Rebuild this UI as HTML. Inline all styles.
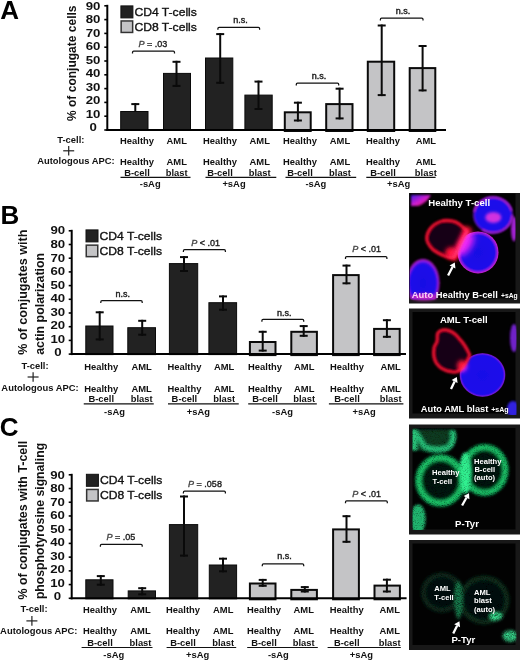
<!DOCTYPE html><html><head><meta charset="utf-8"><style>html,body{margin:0;padding:0;background:#fff;width:520px;height:660px;overflow:hidden}svg{display:block;will-change:transform}text{font-family:"Liberation Sans",sans-serif}</style></head><body>
<svg width="520" height="660" viewBox="0 0 520 660">
<rect width="520" height="660" fill="#fff"/>
<text x="0.20" y="18.80" font-size="26" font-weight="bold" text-anchor="start" fill="#000" >A</text>
<text x="0.60" y="223.80" font-size="26" font-weight="bold" text-anchor="start" fill="#000" >B</text>
<text x="-0.20" y="436.20" font-size="26" font-weight="bold" text-anchor="start" fill="#000" >C</text>
<rect x="120.70" y="111.50" width="27.30" height="19.00" fill="#222" stroke="#0a0a0a" stroke-width="1"/>
<rect x="163.50" y="73.40" width="27.00" height="57.10" fill="#222" stroke="#0a0a0a" stroke-width="1"/>
<rect x="205.50" y="58.00" width="27.30" height="72.50" fill="#222" stroke="#0a0a0a" stroke-width="1"/>
<rect x="244.90" y="95.10" width="27.30" height="35.40" fill="#222" stroke="#0a0a0a" stroke-width="1"/>
<rect x="284.80" y="112.30" width="25.90" height="18.70" fill="#c4c4c6" stroke="#0a0a0a" stroke-width="2"/>
<rect x="326.20" y="104.10" width="26.30" height="26.90" fill="#c4c4c6" stroke="#0a0a0a" stroke-width="2"/>
<rect x="367.80" y="61.70" width="26.40" height="69.30" fill="#c4c4c6" stroke="#0a0a0a" stroke-width="2"/>
<rect x="409.70" y="68.10" width="25.60" height="62.90" fill="#c4c4c6" stroke="#0a0a0a" stroke-width="2"/>
<line x1="135.30" y1="103.10" x2="135.30" y2="111.50" stroke="#0a0a0a" stroke-width="2" stroke-linecap="butt"/>
<line x1="131.30" y1="104.10" x2="139.30" y2="104.10" stroke="#0a0a0a" stroke-width="2" stroke-linecap="butt"/>
<line x1="176.50" y1="60.80" x2="176.50" y2="86.90" stroke="#0a0a0a" stroke-width="2" stroke-linecap="butt"/>
<line x1="172.50" y1="61.80" x2="180.50" y2="61.80" stroke="#0a0a0a" stroke-width="2" stroke-linecap="butt"/>
<line x1="172.50" y1="85.90" x2="180.50" y2="85.90" stroke="#0a0a0a" stroke-width="2" stroke-linecap="butt"/>
<line x1="220.20" y1="33.10" x2="220.20" y2="83.80" stroke="#0a0a0a" stroke-width="2" stroke-linecap="butt"/>
<line x1="216.20" y1="34.10" x2="224.20" y2="34.10" stroke="#0a0a0a" stroke-width="2" stroke-linecap="butt"/>
<line x1="216.20" y1="82.80" x2="224.20" y2="82.80" stroke="#0a0a0a" stroke-width="2" stroke-linecap="butt"/>
<line x1="258.50" y1="80.60" x2="258.50" y2="110.00" stroke="#0a0a0a" stroke-width="2" stroke-linecap="butt"/>
<line x1="254.50" y1="81.60" x2="262.50" y2="81.60" stroke="#0a0a0a" stroke-width="2" stroke-linecap="butt"/>
<line x1="254.50" y1="109.00" x2="262.50" y2="109.00" stroke="#0a0a0a" stroke-width="2" stroke-linecap="butt"/>
<line x1="297.90" y1="101.70" x2="297.90" y2="121.50" stroke="#0a0a0a" stroke-width="2" stroke-linecap="butt"/>
<line x1="293.90" y1="102.70" x2="301.90" y2="102.70" stroke="#0a0a0a" stroke-width="2" stroke-linecap="butt"/>
<line x1="293.90" y1="120.50" x2="301.90" y2="120.50" stroke="#0a0a0a" stroke-width="2" stroke-linecap="butt"/>
<line x1="339.60" y1="87.70" x2="339.60" y2="119.40" stroke="#0a0a0a" stroke-width="2" stroke-linecap="butt"/>
<line x1="335.60" y1="88.70" x2="343.60" y2="88.70" stroke="#0a0a0a" stroke-width="2" stroke-linecap="butt"/>
<line x1="335.60" y1="118.40" x2="343.60" y2="118.40" stroke="#0a0a0a" stroke-width="2" stroke-linecap="butt"/>
<line x1="381.70" y1="24.50" x2="381.70" y2="96.10" stroke="#0a0a0a" stroke-width="2" stroke-linecap="butt"/>
<line x1="377.70" y1="25.50" x2="385.70" y2="25.50" stroke="#0a0a0a" stroke-width="2" stroke-linecap="butt"/>
<line x1="377.70" y1="95.10" x2="385.70" y2="95.10" stroke="#0a0a0a" stroke-width="2" stroke-linecap="butt"/>
<line x1="422.60" y1="45.00" x2="422.60" y2="91.40" stroke="#0a0a0a" stroke-width="2" stroke-linecap="butt"/>
<line x1="418.60" y1="46.00" x2="426.60" y2="46.00" stroke="#0a0a0a" stroke-width="2" stroke-linecap="butt"/>
<line x1="418.60" y1="90.40" x2="426.60" y2="90.40" stroke="#0a0a0a" stroke-width="2" stroke-linecap="butt"/>
<line x1="107.30" y1="4.80" x2="107.30" y2="131.00" stroke="#000" stroke-width="2" stroke-linecap="butt"/>
<line x1="106.30" y1="130.00" x2="446.00" y2="130.00" stroke="#000" stroke-width="2" stroke-linecap="butt"/>
<line x1="104.30" y1="130.00" x2="107.30" y2="130.00" stroke="#000" stroke-width="1.6" stroke-linecap="butt"/>
<text transform="translate(93.05,131.05) scale(1.18,1)" font-size="11.2" font-weight="bold" text-anchor="middle" fill="#111" >0</text>
<line x1="104.30" y1="116.20" x2="107.30" y2="116.20" stroke="#000" stroke-width="1.6" stroke-linecap="butt"/>
<text transform="translate(93.05,117.58) scale(1.18,1)" font-size="11.2" font-weight="bold" text-anchor="middle" fill="#111" >10</text>
<line x1="104.30" y1="102.40" x2="107.30" y2="102.40" stroke="#000" stroke-width="1.6" stroke-linecap="butt"/>
<text transform="translate(93.05,104.12) scale(1.18,1)" font-size="11.2" font-weight="bold" text-anchor="middle" fill="#111" >20</text>
<line x1="104.30" y1="88.60" x2="107.30" y2="88.60" stroke="#000" stroke-width="1.6" stroke-linecap="butt"/>
<text transform="translate(93.05,90.65) scale(1.18,1)" font-size="11.2" font-weight="bold" text-anchor="middle" fill="#111" >30</text>
<line x1="104.30" y1="74.80" x2="107.30" y2="74.80" stroke="#000" stroke-width="1.6" stroke-linecap="butt"/>
<text transform="translate(93.05,77.18) scale(1.18,1)" font-size="11.2" font-weight="bold" text-anchor="middle" fill="#111" >40</text>
<line x1="104.30" y1="61.00" x2="107.30" y2="61.00" stroke="#000" stroke-width="1.6" stroke-linecap="butt"/>
<text transform="translate(93.05,63.72) scale(1.18,1)" font-size="11.2" font-weight="bold" text-anchor="middle" fill="#111" >50</text>
<line x1="104.30" y1="47.20" x2="107.30" y2="47.20" stroke="#000" stroke-width="1.6" stroke-linecap="butt"/>
<text transform="translate(93.05,50.25) scale(1.18,1)" font-size="11.2" font-weight="bold" text-anchor="middle" fill="#111" >60</text>
<line x1="104.30" y1="33.40" x2="107.30" y2="33.40" stroke="#000" stroke-width="1.6" stroke-linecap="butt"/>
<text transform="translate(93.05,36.78) scale(1.18,1)" font-size="11.2" font-weight="bold" text-anchor="middle" fill="#111" >70</text>
<line x1="104.30" y1="19.60" x2="107.30" y2="19.60" stroke="#000" stroke-width="1.6" stroke-linecap="butt"/>
<text transform="translate(93.05,23.32) scale(1.18,1)" font-size="11.2" font-weight="bold" text-anchor="middle" fill="#111" >80</text>
<line x1="104.30" y1="5.80" x2="107.30" y2="5.80" stroke="#000" stroke-width="1.6" stroke-linecap="butt"/>
<text transform="translate(93.05,9.85) scale(1.18,1)" font-size="11.2" font-weight="bold" text-anchor="middle" fill="#111" >90</text>
<path d="M132.50,53.60 L132.50,52.40 Q132.50,51.20 133.70,51.20 L173.30,51.20 Q174.50,51.20 174.50,52.40 L174.50,53.60" fill="none" stroke="#111" stroke-width="1.25"/>
<text x="153.00" y="47.20" font-size="9" text-anchor="middle" fill="#1a1a1a" stroke="#1a1a1a" stroke-width="0.35"><tspan font-style="italic" fill="#444" stroke="#444">P</tspan> = .03</text>
<path d="M217.90,29.70 L217.90,28.50 Q217.90,27.30 219.10,27.30 L258.40,27.30 Q259.60,27.30 259.60,28.50 L259.60,29.70" fill="none" stroke="#111" stroke-width="1.25"/>
<text x="240.50" y="23.00" font-size="9" font-weight="normal" text-anchor="middle" fill="#1a1a1a" stroke="#1a1a1a" stroke-width="0.4">n.s.</text>
<path d="M296.30,85.50 L296.30,84.30 Q296.30,83.10 297.50,83.10 L337.50,83.10 Q338.70,83.10 338.70,84.30 L338.70,85.50" fill="none" stroke="#111" stroke-width="1.25"/>
<text x="319.00" y="78.90" font-size="9" font-weight="normal" text-anchor="middle" fill="#1a1a1a" stroke="#1a1a1a" stroke-width="0.4">n.s.</text>
<path d="M380.40,20.40 L380.40,19.20 Q380.40,18.00 381.60,18.00 L421.80,18.00 Q423.00,18.00 423.00,19.20 L423.00,20.40" fill="none" stroke="#111" stroke-width="1.25"/>
<text x="403.00" y="13.60" font-size="9" font-weight="normal" text-anchor="middle" fill="#1a1a1a" stroke="#1a1a1a" stroke-width="0.4">n.s.</text>
<rect x="120.90" y="5.90" width="12" height="12" fill="#222" stroke="#111" stroke-width="1"/>
<rect x="121.15" y="20.95" width="11.5" height="11.5" fill="#c4c4c6" stroke="#333" stroke-width="1.5"/>
<text x="134.40" y="16.00" font-size="11.6" font-weight="normal" text-anchor="start" fill="#111" textLength="62.5" lengthAdjust="spacingAndGlyphs" stroke="#111" stroke-width="0.35">CD4 T-cells</text>
<text x="134.40" y="30.80" font-size="11.6" font-weight="normal" text-anchor="start" fill="#111" textLength="62.5" lengthAdjust="spacingAndGlyphs" stroke="#111" stroke-width="0.35">CD8 T-cells</text>
<text transform="translate(137.00,143.75) scale(0.95,1)" font-size="9.9" font-weight="bold" text-anchor="middle" fill="#111" >Healthy</text>
<text transform="translate(137.00,165.40) scale(0.95,1)" font-size="9.9" font-weight="bold" text-anchor="middle" fill="#111" >Healthy</text>
<text transform="translate(137.00,176.00) scale(0.95,1)" font-size="9.9" font-weight="bold" text-anchor="middle" fill="#111" >B-cell</text>
<text transform="translate(176.70,143.75) scale(0.95,1)" font-size="9.9" font-weight="bold" text-anchor="middle" fill="#111" >AML</text>
<text transform="translate(176.70,165.40) scale(0.95,1)" font-size="9.9" font-weight="bold" text-anchor="middle" fill="#111" >AML</text>
<text transform="translate(176.70,176.00) scale(0.95,1)" font-size="9.9" font-weight="bold" text-anchor="middle" fill="#111" >blast</text>
<text transform="translate(220.00,143.75) scale(0.95,1)" font-size="9.9" font-weight="bold" text-anchor="middle" fill="#111" >Healthy</text>
<text transform="translate(220.00,165.40) scale(0.95,1)" font-size="9.9" font-weight="bold" text-anchor="middle" fill="#111" >Healthy</text>
<text transform="translate(220.00,176.00) scale(0.95,1)" font-size="9.9" font-weight="bold" text-anchor="middle" fill="#111" >B-cell</text>
<text transform="translate(259.70,143.75) scale(0.95,1)" font-size="9.9" font-weight="bold" text-anchor="middle" fill="#111" >AML</text>
<text transform="translate(259.70,165.40) scale(0.95,1)" font-size="9.9" font-weight="bold" text-anchor="middle" fill="#111" >AML</text>
<text transform="translate(259.70,176.00) scale(0.95,1)" font-size="9.9" font-weight="bold" text-anchor="middle" fill="#111" >blast</text>
<text transform="translate(300.00,143.75) scale(0.95,1)" font-size="9.9" font-weight="bold" text-anchor="middle" fill="#111" >Healthy</text>
<text transform="translate(300.00,165.40) scale(0.95,1)" font-size="9.9" font-weight="bold" text-anchor="middle" fill="#111" >Healthy</text>
<text transform="translate(300.00,176.00) scale(0.95,1)" font-size="9.9" font-weight="bold" text-anchor="middle" fill="#111" >B-cell</text>
<text transform="translate(340.00,143.75) scale(0.95,1)" font-size="9.9" font-weight="bold" text-anchor="middle" fill="#111" >AML</text>
<text transform="translate(340.00,165.40) scale(0.95,1)" font-size="9.9" font-weight="bold" text-anchor="middle" fill="#111" >AML</text>
<text transform="translate(340.00,176.00) scale(0.95,1)" font-size="9.9" font-weight="bold" text-anchor="middle" fill="#111" >blast</text>
<text transform="translate(383.00,143.75) scale(0.95,1)" font-size="9.9" font-weight="bold" text-anchor="middle" fill="#111" >Healthy</text>
<text transform="translate(383.00,165.40) scale(0.95,1)" font-size="9.9" font-weight="bold" text-anchor="middle" fill="#111" >Healthy</text>
<text transform="translate(383.00,176.00) scale(0.95,1)" font-size="9.9" font-weight="bold" text-anchor="middle" fill="#111" >B-cell</text>
<text transform="translate(425.80,143.75) scale(0.95,1)" font-size="9.9" font-weight="bold" text-anchor="middle" fill="#111" >AML</text>
<text transform="translate(425.80,165.40) scale(0.95,1)" font-size="9.9" font-weight="bold" text-anchor="middle" fill="#111" >AML</text>
<text transform="translate(425.80,176.00) scale(0.95,1)" font-size="9.9" font-weight="bold" text-anchor="middle" fill="#111" >blast</text>
<line x1="120.50" y1="177.30" x2="190.50" y2="177.30" stroke="#111" stroke-width="1.2" stroke-linecap="butt"/>
<text transform="translate(150.20,186.70) scale(0.95,1)" font-size="9.9" font-weight="bold" text-anchor="middle" fill="#111" >-sAg</text>
<line x1="205.50" y1="177.30" x2="276.30" y2="177.30" stroke="#111" stroke-width="1.2" stroke-linecap="butt"/>
<text transform="translate(234.00,186.70) scale(0.95,1)" font-size="9.9" font-weight="bold" text-anchor="middle" fill="#111" >+sAg</text>
<line x1="285.50" y1="177.30" x2="356.20" y2="177.30" stroke="#111" stroke-width="1.2" stroke-linecap="butt"/>
<text transform="translate(315.90,186.70) scale(0.95,1)" font-size="9.9" font-weight="bold" text-anchor="middle" fill="#111" >-sAg</text>
<line x1="366.30" y1="177.30" x2="435.60" y2="177.30" stroke="#111" stroke-width="1.2" stroke-linecap="butt"/>
<text transform="translate(398.70,186.70) scale(0.95,1)" font-size="9.9" font-weight="bold" text-anchor="middle" fill="#111" >+sAg</text>
<text transform="translate(70.80,143.00) scale(0.95,1)" font-size="9.9" font-weight="bold" text-anchor="middle" fill="#111" >T-cell:</text>
<line x1="63.20" y1="150.80" x2="74.20" y2="150.80" stroke="#222" stroke-width="1.2" stroke-linecap="butt"/>
<line x1="68.70" y1="146.00" x2="68.70" y2="155.60" stroke="#222" stroke-width="1.2" stroke-linecap="butt"/>
<text transform="translate(114.60,164.30) scale(0.95,1)" font-size="9.9" font-weight="bold" text-anchor="end" fill="#111" >Autologous APC:</text>
<text transform="translate(76.20,121.00) rotate(-90)" font-size="12.3" font-weight="bold" fill="#111" textLength="115.5" lengthAdjust="spacingAndGlyphs">% of conjugate cells</text>
<rect x="85.80" y="326.00" width="27.20" height="28.60" fill="#222" stroke="#0a0a0a" stroke-width="1"/>
<rect x="127.80" y="327.70" width="27.70" height="26.90" fill="#222" stroke="#0a0a0a" stroke-width="1"/>
<rect x="169.40" y="263.60" width="28.30" height="91.00" fill="#222" stroke="#0a0a0a" stroke-width="1"/>
<rect x="208.90" y="302.70" width="27.70" height="51.90" fill="#222" stroke="#0a0a0a" stroke-width="1"/>
<rect x="249.90" y="342.00" width="25.60" height="13.10" fill="#c4c4c6" stroke="#0a0a0a" stroke-width="2"/>
<rect x="291.30" y="331.80" width="25.60" height="23.30" fill="#c4c4c6" stroke="#0a0a0a" stroke-width="2"/>
<rect x="333.10" y="275.10" width="25.60" height="80.00" fill="#c4c4c6" stroke="#0a0a0a" stroke-width="2"/>
<rect x="374.10" y="328.90" width="25.60" height="26.20" fill="#c4c4c6" stroke="#0a0a0a" stroke-width="2"/>
<line x1="99.70" y1="311.30" x2="99.70" y2="340.40" stroke="#0a0a0a" stroke-width="2" stroke-linecap="butt"/>
<line x1="95.70" y1="312.30" x2="103.70" y2="312.30" stroke="#0a0a0a" stroke-width="2" stroke-linecap="butt"/>
<line x1="95.70" y1="339.40" x2="103.70" y2="339.40" stroke="#0a0a0a" stroke-width="2" stroke-linecap="butt"/>
<line x1="142.20" y1="319.80" x2="142.20" y2="335.70" stroke="#0a0a0a" stroke-width="2" stroke-linecap="butt"/>
<line x1="138.20" y1="320.80" x2="146.20" y2="320.80" stroke="#0a0a0a" stroke-width="2" stroke-linecap="butt"/>
<line x1="138.20" y1="334.70" x2="146.20" y2="334.70" stroke="#0a0a0a" stroke-width="2" stroke-linecap="butt"/>
<line x1="184.00" y1="256.10" x2="184.00" y2="272.00" stroke="#0a0a0a" stroke-width="2" stroke-linecap="butt"/>
<line x1="180.00" y1="257.10" x2="188.00" y2="257.10" stroke="#0a0a0a" stroke-width="2" stroke-linecap="butt"/>
<line x1="180.00" y1="271.00" x2="188.00" y2="271.00" stroke="#0a0a0a" stroke-width="2" stroke-linecap="butt"/>
<line x1="223.00" y1="295.40" x2="223.00" y2="310.70" stroke="#0a0a0a" stroke-width="2" stroke-linecap="butt"/>
<line x1="219.00" y1="296.40" x2="227.00" y2="296.40" stroke="#0a0a0a" stroke-width="2" stroke-linecap="butt"/>
<line x1="219.00" y1="309.70" x2="227.00" y2="309.70" stroke="#0a0a0a" stroke-width="2" stroke-linecap="butt"/>
<line x1="262.70" y1="330.80" x2="262.70" y2="351.60" stroke="#0a0a0a" stroke-width="2" stroke-linecap="butt"/>
<line x1="258.70" y1="331.80" x2="266.70" y2="331.80" stroke="#0a0a0a" stroke-width="2" stroke-linecap="butt"/>
<line x1="258.70" y1="350.60" x2="266.70" y2="350.60" stroke="#0a0a0a" stroke-width="2" stroke-linecap="butt"/>
<line x1="303.70" y1="325.10" x2="303.70" y2="336.80" stroke="#0a0a0a" stroke-width="2" stroke-linecap="butt"/>
<line x1="299.70" y1="326.10" x2="307.70" y2="326.10" stroke="#0a0a0a" stroke-width="2" stroke-linecap="butt"/>
<line x1="299.70" y1="335.80" x2="307.70" y2="335.80" stroke="#0a0a0a" stroke-width="2" stroke-linecap="butt"/>
<line x1="346.50" y1="264.60" x2="346.50" y2="284.30" stroke="#0a0a0a" stroke-width="2" stroke-linecap="butt"/>
<line x1="342.50" y1="265.60" x2="350.50" y2="265.60" stroke="#0a0a0a" stroke-width="2" stroke-linecap="butt"/>
<line x1="342.50" y1="283.30" x2="350.50" y2="283.30" stroke="#0a0a0a" stroke-width="2" stroke-linecap="butt"/>
<line x1="386.90" y1="319.20" x2="386.90" y2="337.80" stroke="#0a0a0a" stroke-width="2" stroke-linecap="butt"/>
<line x1="382.90" y1="320.20" x2="390.90" y2="320.20" stroke="#0a0a0a" stroke-width="2" stroke-linecap="butt"/>
<line x1="382.90" y1="336.80" x2="390.90" y2="336.80" stroke="#0a0a0a" stroke-width="2" stroke-linecap="butt"/>
<line x1="71.70" y1="229.80" x2="71.70" y2="355.10" stroke="#000" stroke-width="2" stroke-linecap="butt"/>
<line x1="70.70" y1="354.10" x2="406.00" y2="354.10" stroke="#000" stroke-width="2" stroke-linecap="butt"/>
<line x1="68.70" y1="354.10" x2="71.70" y2="354.10" stroke="#000" stroke-width="1.6" stroke-linecap="butt"/>
<text transform="translate(57.80,356.35) scale(1.18,1)" font-size="11.2" font-weight="bold" text-anchor="middle" fill="#111" >0</text>
<line x1="68.70" y1="340.40" x2="71.70" y2="340.40" stroke="#000" stroke-width="1.6" stroke-linecap="butt"/>
<text transform="translate(57.80,342.81) scale(1.18,1)" font-size="11.2" font-weight="bold" text-anchor="middle" fill="#111" >10</text>
<line x1="68.70" y1="326.70" x2="71.70" y2="326.70" stroke="#000" stroke-width="1.6" stroke-linecap="butt"/>
<text transform="translate(57.80,329.26) scale(1.18,1)" font-size="11.2" font-weight="bold" text-anchor="middle" fill="#111" >20</text>
<line x1="68.70" y1="313.00" x2="71.70" y2="313.00" stroke="#000" stroke-width="1.6" stroke-linecap="butt"/>
<text transform="translate(57.80,315.72) scale(1.18,1)" font-size="11.2" font-weight="bold" text-anchor="middle" fill="#111" >30</text>
<line x1="68.70" y1="299.30" x2="71.70" y2="299.30" stroke="#000" stroke-width="1.6" stroke-linecap="butt"/>
<text transform="translate(57.80,302.17) scale(1.18,1)" font-size="11.2" font-weight="bold" text-anchor="middle" fill="#111" >40</text>
<line x1="68.70" y1="285.60" x2="71.70" y2="285.60" stroke="#000" stroke-width="1.6" stroke-linecap="butt"/>
<text transform="translate(57.80,288.63) scale(1.18,1)" font-size="11.2" font-weight="bold" text-anchor="middle" fill="#111" >50</text>
<line x1="68.70" y1="271.90" x2="71.70" y2="271.90" stroke="#000" stroke-width="1.6" stroke-linecap="butt"/>
<text transform="translate(57.80,275.08) scale(1.18,1)" font-size="11.2" font-weight="bold" text-anchor="middle" fill="#111" >60</text>
<line x1="68.70" y1="258.20" x2="71.70" y2="258.20" stroke="#000" stroke-width="1.6" stroke-linecap="butt"/>
<text transform="translate(57.80,261.54) scale(1.18,1)" font-size="11.2" font-weight="bold" text-anchor="middle" fill="#111" >70</text>
<line x1="68.70" y1="244.50" x2="71.70" y2="244.50" stroke="#000" stroke-width="1.6" stroke-linecap="butt"/>
<text transform="translate(57.80,247.99) scale(1.18,1)" font-size="11.2" font-weight="bold" text-anchor="middle" fill="#111" >80</text>
<line x1="68.70" y1="230.80" x2="71.70" y2="230.80" stroke="#000" stroke-width="1.6" stroke-linecap="butt"/>
<text transform="translate(57.80,234.45) scale(1.18,1)" font-size="11.2" font-weight="bold" text-anchor="middle" fill="#111" >90</text>
<path d="M100.80,303.10 L100.80,301.90 Q100.80,300.70 102.00,300.70 L141.00,300.70 Q142.20,300.70 142.20,301.90 L142.20,303.10" fill="none" stroke="#111" stroke-width="1.25"/>
<text x="122.70" y="296.50" font-size="9" font-weight="normal" text-anchor="middle" fill="#1a1a1a" stroke="#1a1a1a" stroke-width="0.4">n.s.</text>
<path d="M183.40,252.10 L183.40,250.90 Q183.40,249.70 184.60,249.70 L224.20,249.70 Q225.40,249.70 225.40,250.90 L225.40,252.10" fill="none" stroke="#111" stroke-width="1.25"/>
<text x="205.60" y="245.50" font-size="9" text-anchor="middle" fill="#1a1a1a" stroke="#1a1a1a" stroke-width="0.35"><tspan font-style="italic" fill="#444" stroke="#444">P</tspan> &lt; .01</text>
<path d="M261.90,321.80 L261.90,320.60 Q261.90,319.40 263.10,319.40 L302.50,319.40 Q303.70,319.40 303.70,320.60 L303.70,321.80" fill="none" stroke="#111" stroke-width="1.25"/>
<text x="284.20" y="315.50" font-size="9" font-weight="normal" text-anchor="middle" fill="#1a1a1a" stroke="#1a1a1a" stroke-width="0.4">n.s.</text>
<path d="M345.50,258.90 L345.50,257.70 Q345.50,256.50 346.70,256.50 L385.70,256.50 Q386.90,256.50 386.90,257.70 L386.90,258.90" fill="none" stroke="#111" stroke-width="1.25"/>
<text x="366.70" y="252.00" font-size="9" text-anchor="middle" fill="#1a1a1a" stroke="#1a1a1a" stroke-width="0.35"><tspan font-style="italic" fill="#444" stroke="#444">P</tspan> &lt; .01</text>
<rect x="86.00" y="229.90" width="12" height="12" fill="#222" stroke="#111" stroke-width="1"/>
<rect x="86.25" y="245.15" width="11.5" height="11.5" fill="#c4c4c6" stroke="#333" stroke-width="1.5"/>
<text x="99.50" y="240.00" font-size="11.6" font-weight="normal" text-anchor="start" fill="#111" textLength="62.5" lengthAdjust="spacingAndGlyphs" stroke="#111" stroke-width="0.35">CD4 T-cells</text>
<text x="99.50" y="255.00" font-size="11.6" font-weight="normal" text-anchor="start" fill="#111" textLength="62.5" lengthAdjust="spacingAndGlyphs" stroke="#111" stroke-width="0.35">CD8 T-cells</text>
<text transform="translate(101.20,369.50) scale(0.95,1)" font-size="9.9" font-weight="bold" text-anchor="middle" fill="#111" >Healthy</text>
<text transform="translate(101.20,391.50) scale(0.95,1)" font-size="9.9" font-weight="bold" text-anchor="middle" fill="#111" >Healthy</text>
<text transform="translate(101.20,401.70) scale(0.95,1)" font-size="9.9" font-weight="bold" text-anchor="middle" fill="#111" >B-cell</text>
<text transform="translate(141.60,369.50) scale(0.95,1)" font-size="9.9" font-weight="bold" text-anchor="middle" fill="#111" >AML</text>
<text transform="translate(141.60,391.50) scale(0.95,1)" font-size="9.9" font-weight="bold" text-anchor="middle" fill="#111" >AML</text>
<text transform="translate(141.60,401.70) scale(0.95,1)" font-size="9.9" font-weight="bold" text-anchor="middle" fill="#111" >blast</text>
<text transform="translate(184.40,369.50) scale(0.95,1)" font-size="9.9" font-weight="bold" text-anchor="middle" fill="#111" >Healthy</text>
<text transform="translate(184.40,391.50) scale(0.95,1)" font-size="9.9" font-weight="bold" text-anchor="middle" fill="#111" >Healthy</text>
<text transform="translate(184.40,401.70) scale(0.95,1)" font-size="9.9" font-weight="bold" text-anchor="middle" fill="#111" >B-cell</text>
<text transform="translate(224.10,369.50) scale(0.95,1)" font-size="9.9" font-weight="bold" text-anchor="middle" fill="#111" >AML</text>
<text transform="translate(224.10,391.50) scale(0.95,1)" font-size="9.9" font-weight="bold" text-anchor="middle" fill="#111" >AML</text>
<text transform="translate(224.10,401.70) scale(0.95,1)" font-size="9.9" font-weight="bold" text-anchor="middle" fill="#111" >blast</text>
<text transform="translate(265.00,369.50) scale(0.95,1)" font-size="9.9" font-weight="bold" text-anchor="middle" fill="#111" >Healthy</text>
<text transform="translate(265.00,391.50) scale(0.95,1)" font-size="9.9" font-weight="bold" text-anchor="middle" fill="#111" >Healthy</text>
<text transform="translate(265.00,401.70) scale(0.95,1)" font-size="9.9" font-weight="bold" text-anchor="middle" fill="#111" >B-cell</text>
<text transform="translate(304.20,369.50) scale(0.95,1)" font-size="9.9" font-weight="bold" text-anchor="middle" fill="#111" >AML</text>
<text transform="translate(304.20,391.50) scale(0.95,1)" font-size="9.9" font-weight="bold" text-anchor="middle" fill="#111" >AML</text>
<text transform="translate(304.20,401.70) scale(0.95,1)" font-size="9.9" font-weight="bold" text-anchor="middle" fill="#111" >blast</text>
<text transform="translate(347.00,369.50) scale(0.95,1)" font-size="9.9" font-weight="bold" text-anchor="middle" fill="#111" >Healthy</text>
<text transform="translate(347.00,391.50) scale(0.95,1)" font-size="9.9" font-weight="bold" text-anchor="middle" fill="#111" >Healthy</text>
<text transform="translate(347.00,401.70) scale(0.95,1)" font-size="9.9" font-weight="bold" text-anchor="middle" fill="#111" >B-cell</text>
<text transform="translate(390.60,369.50) scale(0.95,1)" font-size="9.9" font-weight="bold" text-anchor="middle" fill="#111" >AML</text>
<text transform="translate(390.60,391.50) scale(0.95,1)" font-size="9.9" font-weight="bold" text-anchor="middle" fill="#111" >AML</text>
<text transform="translate(390.60,401.70) scale(0.95,1)" font-size="9.9" font-weight="bold" text-anchor="middle" fill="#111" >blast</text>
<line x1="83.75" y1="403.80" x2="153.75" y2="403.80" stroke="#111" stroke-width="1.2" stroke-linecap="butt"/>
<text transform="translate(114.50,414.50) scale(0.95,1)" font-size="9.9" font-weight="bold" text-anchor="middle" fill="#111" >-sAg</text>
<line x1="168.00" y1="403.80" x2="238.75" y2="403.80" stroke="#111" stroke-width="1.2" stroke-linecap="butt"/>
<text transform="translate(198.30,414.50) scale(0.95,1)" font-size="9.9" font-weight="bold" text-anchor="middle" fill="#111" >+sAg</text>
<line x1="248.20" y1="403.80" x2="316.80" y2="403.80" stroke="#111" stroke-width="1.2" stroke-linecap="butt"/>
<text transform="translate(282.50,414.50) scale(0.95,1)" font-size="9.9" font-weight="bold" text-anchor="middle" fill="#111" >-sAg</text>
<line x1="328.90" y1="403.80" x2="403.40" y2="403.80" stroke="#111" stroke-width="1.2" stroke-linecap="butt"/>
<text transform="translate(364.20,414.50) scale(0.95,1)" font-size="9.9" font-weight="bold" text-anchor="middle" fill="#111" >+sAg</text>
<text transform="translate(35.00,368.80) scale(0.95,1)" font-size="9.9" font-weight="bold" text-anchor="middle" fill="#111" >T-cell:</text>
<line x1="27.60" y1="377.00" x2="38.60" y2="377.00" stroke="#222" stroke-width="1.2" stroke-linecap="butt"/>
<line x1="33.10" y1="372.20" x2="33.10" y2="381.80" stroke="#222" stroke-width="1.2" stroke-linecap="butt"/>
<text transform="translate(78.75,391.00) scale(0.95,1)" font-size="9.9" font-weight="bold" text-anchor="end" fill="#111" >Autologous APC:</text>
<text transform="translate(27.10,354.80) rotate(-90)" font-size="12.3" font-weight="bold" fill="#111" textLength="125.2" lengthAdjust="spacingAndGlyphs">% of conjugates with</text>
<text transform="translate(44.40,354.80) rotate(-90)" font-size="12.3" font-weight="bold" fill="#111" textLength="102" lengthAdjust="spacingAndGlyphs">actin polarization</text>
<rect x="85.80" y="579.80" width="27.20" height="19.00" fill="#222" stroke="#0a0a0a" stroke-width="1"/>
<rect x="128.20" y="590.90" width="27.30" height="7.90" fill="#222" stroke="#0a0a0a" stroke-width="1"/>
<rect x="169.40" y="524.60" width="28.30" height="74.20" fill="#222" stroke="#0a0a0a" stroke-width="1"/>
<rect x="209.30" y="565.00" width="27.30" height="33.80" fill="#222" stroke="#0a0a0a" stroke-width="1"/>
<rect x="249.90" y="583.50" width="25.60" height="15.80" fill="#c4c4c6" stroke="#0a0a0a" stroke-width="2"/>
<rect x="291.30" y="589.90" width="25.60" height="9.40" fill="#c4c4c6" stroke="#0a0a0a" stroke-width="2"/>
<rect x="333.10" y="529.40" width="25.80" height="69.90" fill="#c4c4c6" stroke="#0a0a0a" stroke-width="2"/>
<rect x="374.50" y="585.60" width="25.40" height="13.70" fill="#c4c4c6" stroke="#0a0a0a" stroke-width="2"/>
<line x1="100.80" y1="575.10" x2="100.80" y2="585.70" stroke="#0a0a0a" stroke-width="2" stroke-linecap="butt"/>
<line x1="96.80" y1="576.10" x2="104.80" y2="576.10" stroke="#0a0a0a" stroke-width="2" stroke-linecap="butt"/>
<line x1="96.80" y1="584.70" x2="104.80" y2="584.70" stroke="#0a0a0a" stroke-width="2" stroke-linecap="butt"/>
<line x1="142.20" y1="587.20" x2="142.20" y2="595.30" stroke="#0a0a0a" stroke-width="2" stroke-linecap="butt"/>
<line x1="138.20" y1="588.20" x2="146.20" y2="588.20" stroke="#0a0a0a" stroke-width="2" stroke-linecap="butt"/>
<line x1="138.20" y1="594.30" x2="146.20" y2="594.30" stroke="#0a0a0a" stroke-width="2" stroke-linecap="butt"/>
<line x1="184.00" y1="495.50" x2="184.00" y2="556.60" stroke="#0a0a0a" stroke-width="2" stroke-linecap="butt"/>
<line x1="180.00" y1="496.50" x2="188.00" y2="496.50" stroke="#0a0a0a" stroke-width="2" stroke-linecap="butt"/>
<line x1="180.00" y1="555.60" x2="188.00" y2="555.60" stroke="#0a0a0a" stroke-width="2" stroke-linecap="butt"/>
<line x1="223.00" y1="557.70" x2="223.00" y2="572.30" stroke="#0a0a0a" stroke-width="2" stroke-linecap="butt"/>
<line x1="219.00" y1="558.70" x2="227.00" y2="558.70" stroke="#0a0a0a" stroke-width="2" stroke-linecap="butt"/>
<line x1="219.00" y1="571.30" x2="227.00" y2="571.30" stroke="#0a0a0a" stroke-width="2" stroke-linecap="butt"/>
<line x1="262.70" y1="578.90" x2="262.70" y2="586.80" stroke="#0a0a0a" stroke-width="2" stroke-linecap="butt"/>
<line x1="258.70" y1="579.90" x2="266.70" y2="579.90" stroke="#0a0a0a" stroke-width="2" stroke-linecap="butt"/>
<line x1="258.70" y1="585.80" x2="266.70" y2="585.80" stroke="#0a0a0a" stroke-width="2" stroke-linecap="butt"/>
<line x1="304.80" y1="586.10" x2="304.80" y2="592.50" stroke="#0a0a0a" stroke-width="2" stroke-linecap="butt"/>
<line x1="300.80" y1="587.10" x2="308.80" y2="587.10" stroke="#0a0a0a" stroke-width="2" stroke-linecap="butt"/>
<line x1="300.80" y1="591.50" x2="308.80" y2="591.50" stroke="#0a0a0a" stroke-width="2" stroke-linecap="butt"/>
<line x1="346.50" y1="515.20" x2="346.50" y2="542.80" stroke="#0a0a0a" stroke-width="2" stroke-linecap="butt"/>
<line x1="342.50" y1="516.20" x2="350.50" y2="516.20" stroke="#0a0a0a" stroke-width="2" stroke-linecap="butt"/>
<line x1="342.50" y1="541.80" x2="350.50" y2="541.80" stroke="#0a0a0a" stroke-width="2" stroke-linecap="butt"/>
<line x1="386.90" y1="578.70" x2="386.90" y2="592.50" stroke="#0a0a0a" stroke-width="2" stroke-linecap="butt"/>
<line x1="382.90" y1="579.70" x2="390.90" y2="579.70" stroke="#0a0a0a" stroke-width="2" stroke-linecap="butt"/>
<line x1="382.90" y1="591.50" x2="390.90" y2="591.50" stroke="#0a0a0a" stroke-width="2" stroke-linecap="butt"/>
<line x1="71.70" y1="473.80" x2="71.70" y2="599.30" stroke="#000" stroke-width="2" stroke-linecap="butt"/>
<line x1="70.70" y1="598.30" x2="406.60" y2="598.30" stroke="#000" stroke-width="2" stroke-linecap="butt"/>
<line x1="68.70" y1="598.30" x2="71.70" y2="598.30" stroke="#000" stroke-width="1.6" stroke-linecap="butt"/>
<text transform="translate(57.50,600.35) scale(1.18,1)" font-size="11.2" font-weight="bold" text-anchor="middle" fill="#111" >0</text>
<line x1="68.70" y1="584.58" x2="71.70" y2="584.58" stroke="#000" stroke-width="1.6" stroke-linecap="butt"/>
<text transform="translate(57.50,586.86) scale(1.18,1)" font-size="11.2" font-weight="bold" text-anchor="middle" fill="#111" >10</text>
<line x1="68.70" y1="570.86" x2="71.70" y2="570.86" stroke="#000" stroke-width="1.6" stroke-linecap="butt"/>
<text transform="translate(57.50,573.37) scale(1.18,1)" font-size="11.2" font-weight="bold" text-anchor="middle" fill="#111" >20</text>
<line x1="68.70" y1="557.13" x2="71.70" y2="557.13" stroke="#000" stroke-width="1.6" stroke-linecap="butt"/>
<text transform="translate(57.50,559.88) scale(1.18,1)" font-size="11.2" font-weight="bold" text-anchor="middle" fill="#111" >30</text>
<line x1="68.70" y1="543.41" x2="71.70" y2="543.41" stroke="#000" stroke-width="1.6" stroke-linecap="butt"/>
<text transform="translate(57.50,546.39) scale(1.18,1)" font-size="11.2" font-weight="bold" text-anchor="middle" fill="#111" >40</text>
<line x1="68.70" y1="529.69" x2="71.70" y2="529.69" stroke="#000" stroke-width="1.6" stroke-linecap="butt"/>
<text transform="translate(57.50,532.91) scale(1.18,1)" font-size="11.2" font-weight="bold" text-anchor="middle" fill="#111" >50</text>
<line x1="68.70" y1="515.97" x2="71.70" y2="515.97" stroke="#000" stroke-width="1.6" stroke-linecap="butt"/>
<text transform="translate(57.50,519.42) scale(1.18,1)" font-size="11.2" font-weight="bold" text-anchor="middle" fill="#111" >60</text>
<line x1="68.70" y1="502.24" x2="71.70" y2="502.24" stroke="#000" stroke-width="1.6" stroke-linecap="butt"/>
<text transform="translate(57.50,505.93) scale(1.18,1)" font-size="11.2" font-weight="bold" text-anchor="middle" fill="#111" >70</text>
<line x1="68.70" y1="488.52" x2="71.70" y2="488.52" stroke="#000" stroke-width="1.6" stroke-linecap="butt"/>
<text transform="translate(57.50,492.44) scale(1.18,1)" font-size="11.2" font-weight="bold" text-anchor="middle" fill="#111" >80</text>
<line x1="68.70" y1="474.80" x2="71.70" y2="474.80" stroke="#000" stroke-width="1.6" stroke-linecap="butt"/>
<text transform="translate(57.50,478.95) scale(1.18,1)" font-size="11.2" font-weight="bold" text-anchor="middle" fill="#111" >90</text>
<path d="M100.40,546.70 L100.40,545.50 Q100.40,544.30 101.60,544.30 L141.00,544.30 Q142.20,544.30 142.20,545.50 L142.20,546.70" fill="none" stroke="#111" stroke-width="1.25"/>
<text x="121.00" y="540.40" font-size="9" text-anchor="middle" fill="#1a1a1a" stroke="#1a1a1a" stroke-width="0.35"><tspan font-style="italic" fill="#444" stroke="#444">P</tspan> = .05</text>
<path d="M183.40,493.60 L183.40,492.40 Q183.40,491.20 184.60,491.20 L224.20,491.20 Q225.40,491.20 225.40,492.40 L225.40,493.60" fill="none" stroke="#111" stroke-width="1.25"/>
<text x="205.00" y="487.20" font-size="9" text-anchor="middle" fill="#1a1a1a" stroke="#1a1a1a" stroke-width="0.35"><tspan font-style="italic" fill="#444" stroke="#444">P</tspan> = .058</text>
<path d="M262.30,566.20 L262.30,565.00 Q262.30,563.80 263.50,563.80 L302.50,563.80 Q303.70,563.80 303.70,565.00 L303.70,566.20" fill="none" stroke="#111" stroke-width="1.25"/>
<text x="284.60" y="559.40" font-size="9" font-weight="normal" text-anchor="middle" fill="#1a1a1a" stroke="#1a1a1a" stroke-width="0.4">n.s.</text>
<path d="M345.50,503.20 L345.50,502.00 Q345.50,500.80 346.70,500.80 L386.10,500.80 Q387.30,500.80 387.30,502.00 L387.30,503.20" fill="none" stroke="#111" stroke-width="1.25"/>
<text x="366.70" y="496.50" font-size="9" text-anchor="middle" fill="#1a1a1a" stroke="#1a1a1a" stroke-width="0.35"><tspan font-style="italic" fill="#444" stroke="#444">P</tspan> &lt; .01</text>
<rect x="86.40" y="474.30" width="12" height="12" fill="#222" stroke="#111" stroke-width="1"/>
<rect x="86.65" y="489.45" width="11.5" height="11.5" fill="#c4c4c6" stroke="#333" stroke-width="1.5"/>
<text x="99.90" y="484.40" font-size="11.6" font-weight="normal" text-anchor="start" fill="#111" textLength="62.5" lengthAdjust="spacingAndGlyphs" stroke="#111" stroke-width="0.35">CD4 T-cells</text>
<text x="99.90" y="499.30" font-size="11.6" font-weight="normal" text-anchor="start" fill="#111" textLength="62.5" lengthAdjust="spacingAndGlyphs" stroke="#111" stroke-width="0.35">CD8 T-cells</text>
<text transform="translate(100.00,612.75) scale(0.95,1)" font-size="9.9" font-weight="bold" text-anchor="middle" fill="#111" >Healthy</text>
<text transform="translate(100.00,634.00) scale(0.95,1)" font-size="9.9" font-weight="bold" text-anchor="middle" fill="#111" >Healthy</text>
<text transform="translate(100.00,646.00) scale(0.95,1)" font-size="9.9" font-weight="bold" text-anchor="middle" fill="#111" >B-cell</text>
<text transform="translate(140.50,612.75) scale(0.95,1)" font-size="9.9" font-weight="bold" text-anchor="middle" fill="#111" >AML</text>
<text transform="translate(140.50,634.00) scale(0.95,1)" font-size="9.9" font-weight="bold" text-anchor="middle" fill="#111" >AML</text>
<text transform="translate(140.50,646.00) scale(0.95,1)" font-size="9.9" font-weight="bold" text-anchor="middle" fill="#111" >blast</text>
<text transform="translate(183.00,612.75) scale(0.95,1)" font-size="9.9" font-weight="bold" text-anchor="middle" fill="#111" >Healthy</text>
<text transform="translate(183.00,634.00) scale(0.95,1)" font-size="9.9" font-weight="bold" text-anchor="middle" fill="#111" >Healthy</text>
<text transform="translate(183.00,646.00) scale(0.95,1)" font-size="9.9" font-weight="bold" text-anchor="middle" fill="#111" >B-cell</text>
<text transform="translate(223.20,612.75) scale(0.95,1)" font-size="9.9" font-weight="bold" text-anchor="middle" fill="#111" >AML</text>
<text transform="translate(223.20,634.00) scale(0.95,1)" font-size="9.9" font-weight="bold" text-anchor="middle" fill="#111" >AML</text>
<text transform="translate(223.20,646.00) scale(0.95,1)" font-size="9.9" font-weight="bold" text-anchor="middle" fill="#111" >blast</text>
<text transform="translate(264.00,612.75) scale(0.95,1)" font-size="9.9" font-weight="bold" text-anchor="middle" fill="#111" >Healthy</text>
<text transform="translate(264.00,634.00) scale(0.95,1)" font-size="9.9" font-weight="bold" text-anchor="middle" fill="#111" >Healthy</text>
<text transform="translate(264.00,646.00) scale(0.95,1)" font-size="9.9" font-weight="bold" text-anchor="middle" fill="#111" >B-cell</text>
<text transform="translate(303.70,612.75) scale(0.95,1)" font-size="9.9" font-weight="bold" text-anchor="middle" fill="#111" >AML</text>
<text transform="translate(303.70,634.00) scale(0.95,1)" font-size="9.9" font-weight="bold" text-anchor="middle" fill="#111" >AML</text>
<text transform="translate(303.70,646.00) scale(0.95,1)" font-size="9.9" font-weight="bold" text-anchor="middle" fill="#111" >blast</text>
<text transform="translate(346.70,612.75) scale(0.95,1)" font-size="9.9" font-weight="bold" text-anchor="middle" fill="#111" >Healthy</text>
<text transform="translate(346.70,634.00) scale(0.95,1)" font-size="9.9" font-weight="bold" text-anchor="middle" fill="#111" >Healthy</text>
<text transform="translate(346.70,646.00) scale(0.95,1)" font-size="9.9" font-weight="bold" text-anchor="middle" fill="#111" >B-cell</text>
<text transform="translate(389.70,612.75) scale(0.95,1)" font-size="9.9" font-weight="bold" text-anchor="middle" fill="#111" >AML</text>
<text transform="translate(389.70,634.00) scale(0.95,1)" font-size="9.9" font-weight="bold" text-anchor="middle" fill="#111" >AML</text>
<text transform="translate(389.70,646.00) scale(0.95,1)" font-size="9.9" font-weight="bold" text-anchor="middle" fill="#111" >blast</text>
<line x1="81.60" y1="647.50" x2="152.50" y2="647.50" stroke="#111" stroke-width="1.2" stroke-linecap="butt"/>
<text transform="translate(113.80,657.75) scale(0.95,1)" font-size="9.9" font-weight="bold" text-anchor="middle" fill="#111" >-sAg</text>
<line x1="166.60" y1="647.50" x2="236.20" y2="647.50" stroke="#111" stroke-width="1.2" stroke-linecap="butt"/>
<text transform="translate(197.70,657.75) scale(0.95,1)" font-size="9.9" font-weight="bold" text-anchor="middle" fill="#111" >+sAg</text>
<line x1="247.20" y1="647.50" x2="317.80" y2="647.50" stroke="#111" stroke-width="1.2" stroke-linecap="butt"/>
<text transform="translate(278.40,657.75) scale(0.95,1)" font-size="9.9" font-weight="bold" text-anchor="middle" fill="#111" >-sAg</text>
<line x1="327.60" y1="647.50" x2="400.80" y2="647.50" stroke="#111" stroke-width="1.2" stroke-linecap="butt"/>
<text transform="translate(361.40,657.75) scale(0.95,1)" font-size="9.9" font-weight="bold" text-anchor="middle" fill="#111" >+sAg</text>
<text transform="translate(34.00,612.00) scale(0.95,1)" font-size="9.9" font-weight="bold" text-anchor="middle" fill="#111" >T-cell:</text>
<line x1="26.40" y1="620.90" x2="37.40" y2="620.90" stroke="#222" stroke-width="1.2" stroke-linecap="butt"/>
<line x1="31.90" y1="616.10" x2="31.90" y2="625.70" stroke="#222" stroke-width="1.2" stroke-linecap="butt"/>
<text transform="translate(77.50,634.00) scale(0.95,1)" font-size="9.9" font-weight="bold" text-anchor="end" fill="#111" >Autologous APC:</text>
<text transform="translate(27.20,599.50) rotate(-90)" font-size="12.3" font-weight="bold" fill="#111" textLength="158.6" lengthAdjust="spacingAndGlyphs">% of conjugates with T-cell</text>
<text transform="translate(44.20,599.10) rotate(-90)" font-size="12.3" font-weight="bold" fill="#111" textLength="156.2" lengthAdjust="spacingAndGlyphs">phosphotyrosine signaling</text>
<defs>
<filter id="b05" x="-50%" y="-50%" width="200%" height="200%"><feGaussianBlur stdDeviation="0.6"/></filter>
<filter id="b1" x="-50%" y="-50%" width="200%" height="200%"><feGaussianBlur stdDeviation="1"/></filter>
<filter id="b15" x="-50%" y="-50%" width="200%" height="200%"><feGaussianBlur stdDeviation="1.5"/></filter>
<filter id="b2" x="-50%" y="-50%" width="200%" height="200%"><feGaussianBlur stdDeviation="2"/></filter>
<filter id="b3" x="-50%" y="-50%" width="200%" height="200%"><feGaussianBlur stdDeviation="3"/></filter>
<filter id="spk" x="0" y="0" width="100%" height="100%" filterUnits="userSpaceOnUse">
 <feGaussianBlur in="SourceGraphic" stdDeviation="1.4" result="bl"/>
 <feTurbulence type="fractalNoise" baseFrequency="0.9" numOctaves="2" seed="7" result="nz"/>
 <feColorMatrix in="nz" type="matrix" values="0 0 0 0 0  0 0 0 0 0  0 0 0 0 0  1.4 0 0 0 0.1" result="na"/>
 <feComposite in="bl" in2="na" operator="in" result="sp"/>
</filter>
<filter id="spkB" x="0" y="0" width="100%" height="100%" filterUnits="userSpaceOnUse">
 <feGaussianBlur in="SourceGraphic" stdDeviation="1.6" result="bl"/>
 <feTurbulence type="fractalNoise" baseFrequency="0.9" numOctaves="2" seed="11" result="nz"/>
 <feColorMatrix in="nz" type="matrix" values="0 0 0 0 0  0 0 0 0 0  0 0 0 0 0  1.6 0 0 0 0.05" result="na"/>
 <feComposite in="bl" in2="na" operator="in" result="sp"/>
 <feMerge><feMergeNode in="sp"/><feMergeNode in="sp"/></feMerge>
</filter>
<radialGradient id="blueCell" cx="50%" cy="50%" r="50%"><stop offset="0" stop-color="#1808e4"/><stop offset="0.8" stop-color="#1e0cea"/><stop offset="0.91" stop-color="#8018e0"/><stop offset="1" stop-color="#d020d0"/></radialGradient>
<radialGradient id="blueCell2" cx="50%" cy="50%" r="50%"><stop offset="0" stop-color="#1808e8"/><stop offset="0.88" stop-color="#1e0cea"/><stop offset="0.96" stop-color="#6a16e0"/><stop offset="1" stop-color="#9020d0" stop-opacity="0.5"/></radialGradient>
<linearGradient id="wedge" x1="0" y1="0" x2="1" y2="1"><stop offset="0" stop-color="#4018e0"/><stop offset="0.5" stop-color="#d020d0"/><stop offset="1" stop-color="#e01850"/></linearGradient>
<clipPath id="cB1"><rect x="409.6" y="193.6" width="106" height="106"/></clipPath>
<clipPath id="cB2"><rect x="412.5" y="312" width="104" height="103"/></clipPath>
<clipPath id="cC1"><rect x="412.5" y="428" width="104" height="102"/></clipPath>
<clipPath id="cC2"><rect x="412.5" y="543.5" width="104" height="102"/></clipPath>
</defs>
<rect x="409" y="193" width="111" height="110.5" fill="#181818"/>
<rect x="409.6" y="193.6" width="105.9" height="104.9" fill="#020202"/>
<g clip-path="url(#cB1)" style="isolation:isolate">
<path d="M411,195 L431,195 C428,200 424,204 418,206 L411,206 Z" fill="url(#wedge)" filter="url(#b1)"/>
<ellipse cx="493" cy="215" rx="20" ry="18.5" fill="url(#blueCell2)" filter="url(#b1)"/>
<ellipse cx="493" cy="215" rx="19" ry="17.5" fill="none" stroke="#b020d0" stroke-width="2" stroke-dasharray="40 20 50 10" filter="url(#b1)"/>
<ellipse cx="493.3" cy="217.4" rx="8" ry="5.5" fill="#d030e0" filter="url(#b15)"/>
<ellipse cx="514" cy="229" rx="3" ry="12.5" fill="#a020d0" filter="url(#b1)"/>
<ellipse cx="478" cy="252.4" rx="20.5" ry="21" fill="url(#blueCell)" filter="url(#b05)"/>
<ellipse cx="423" cy="283" rx="16.5" ry="24" fill="url(#blueCell)" filter="url(#b1)"/>
<path d="M426.5,238 C427,230 433,223 443,220.5 C451,219.5 458,222 462,226 L467,231 C464,238 461,244 457,252 L454,258 C447,258 440,255 433,250 C429,246 426.5,242 426.5,238 Z" fill="#140212" stroke="#f01030" stroke-width="2.8" filter="url(#b1)"/>
<path d="M468,227 C465,236 461,245 456,253 L452,259" fill="none" stroke="#ff1828" stroke-width="8" filter="url(#b2)" style="mix-blend-mode:screen"/>
<ellipse cx="466" cy="244" rx="6" ry="13" transform="rotate(30 466 244)" fill="#e01880" filter="url(#b3)" style="mix-blend-mode:screen"/>
<ellipse cx="451" cy="253" rx="6" ry="6" fill="#ff1020" filter="url(#b2)" style="mix-blend-mode:screen"/>
</g>
<line x1="448.1" y1="275.5" x2="452.51" y2="266.94" stroke="#fff" stroke-width="2.3"/>
<path d="M454.80,262.50 L455.44,268.46 L449.58,265.43 Z" fill="#fff"/>
<text x="459.2" y="205.8" font-size="9.6" font-weight="bold" text-anchor="middle" fill="#fff">Healthy T-cell</text>
<ellipse cx="424" cy="297" rx="13" ry="3.5" fill="#c020c0" filter="url(#b15)"/>
<text x="411.8" y="297.9" font-size="9.8" font-weight="bold" fill="#fff" textLength="86" lengthAdjust="spacingAndGlyphs"><tspan fill="#f8d0f8">Auto</tspan> Healthy B-cell</text>
<text x="501" y="297.9" font-size="6.8" font-weight="bold" fill="#fff" textLength="16.7" lengthAdjust="spacingAndGlyphs">+sAg</text>
<rect x="409" y="308.5" width="111" height="110" fill="#181818"/>
<rect x="412.5" y="312.0" width="103.0" height="101.5" fill="#020202"/>
<g clip-path="url(#cB2)" style="isolation:isolate">
<ellipse cx="482.5" cy="375" rx="23" ry="22" fill="url(#blueCell2)" filter="url(#b05)"/>
<ellipse cx="514" cy="338" rx="4" ry="14" fill="#7020c8" filter="url(#b1)"/>
<ellipse cx="513" cy="409" rx="6" ry="8" fill="#3020e0" filter="url(#b1)"/>
<path d="M437,336 C437,331 441,329.5 446,329.6 C452,330.5 456,334 459,338 C463,342 467,348 470,355 C468,360 466,364 463,367 C460,371 456,373 452,372 C446,371.5 440,369 436,363 C433,358 433,352 434,347 C435,344 437,343 437,340 Z" fill="#140212" stroke="#f01030" stroke-width="2.8" filter="url(#b1)"/>
<ellipse cx="462" cy="366" rx="5" ry="6" fill="#ff1828" filter="url(#b2)" style="mix-blend-mode:screen"/>
</g>
<line x1="451" y1="389" x2="454.62" y2="381.50" stroke="#fff" stroke-width="2.3"/>
<path d="M456.80,377.00 L457.60,382.94 L451.65,380.07 Z" fill="#fff"/>
<text x="463.8" y="322.6" font-size="9.6" font-weight="bold" text-anchor="middle" fill="#fff">AML T-cell</text>
<text x="420.8" y="412" font-size="9.8" font-weight="bold" fill="#fff" textLength="67.5" lengthAdjust="spacingAndGlyphs">Auto AML blast</text>
<text x="491.2" y="412" font-size="7" font-weight="bold" fill="#fff" textLength="17.5" lengthAdjust="spacingAndGlyphs">+sAg</text>
<rect x="409" y="424.5" width="111" height="110" fill="#181818"/>
<rect x="412.5" y="428.0" width="103.0" height="101.5" fill="#020202"/>
<g clip-path="url(#cC1)"><g filter="url(#spkB)">
<path d="M412,430 L452,430 C456,436 454,446 446,451 C438,454 428,453 420,450 L412,448 Z" fill="#083a20"/>
<path d="M413,432 C418,433 420,440 424,446 C430,450 440,450 447,448 C452,445 455,438 452,431" fill="none" stroke="#28c078" stroke-width="5"/>
<path d="M413,430 L413,450" stroke="#2cc47a" stroke-width="8"/>
<ellipse cx="440.5" cy="480.5" rx="21.5" ry="22.5" fill="#04180c" stroke="#0e8a48" stroke-width="7"/>
<ellipse cx="440.5" cy="480.5" rx="21.5" ry="22.5" fill="none" stroke="#22d070" stroke-width="3"/>
<ellipse cx="484.6" cy="470" rx="20.5" ry="22.5" fill="#04180c" stroke="#0e8a48" stroke-width="6.5"/>
<ellipse cx="484.6" cy="470" rx="20.5" ry="22.5" fill="none" stroke="#22d070" stroke-width="2.6"/>
<ellipse cx="465.5" cy="473" rx="5.5" ry="20" fill="#30f090"/>
<ellipse cx="418" cy="519" rx="7" ry="14" fill="#24b46e"/>
</g></g>
<line x1="462.1" y1="505.5" x2="466.55" y2="497.56" stroke="#fff" stroke-width="2.3"/>
<path d="M469.00,493.20 L469.43,499.18 L463.68,495.95 Z" fill="#fff"/>
<text x="432" y="475.4" font-size="7.6" font-weight="bold" fill="#fff">Healthy</text>
<text x="432.6" y="483.6" font-size="7.6" font-weight="bold" fill="#fff">T-cell</text>
<text x="474" y="463.8" font-size="7.6" font-weight="bold" fill="#fff">Healthy</text>
<text x="474.4" y="472" font-size="7.6" font-weight="bold" fill="#fff">B-cell</text>
<text x="474" y="480.2" font-size="7.6" font-weight="bold" fill="#fff">(auto)</text>
<text x="467" y="527.2" font-size="9.6" font-weight="bold" text-anchor="middle" fill="#fff">P-Tyr</text>
<rect x="409" y="540" width="111" height="110" fill="#181818"/>
<rect x="412.5" y="543.5" width="103.0" height="101.5" fill="#020202"/>
<g clip-path="url(#cC2)"><g filter="url(#spk)">
<ellipse cx="442" cy="592.5" rx="18.5" ry="17.5" fill="#020e07" stroke="#082c1a" stroke-width="5"/>
<ellipse cx="484" cy="600" rx="23" ry="22" fill="#020e07" stroke="#09301c" stroke-width="5"/>
<ellipse cx="458.5" cy="600" rx="4" ry="19" fill="#188050"/>
<ellipse cx="496" cy="616.5" rx="6.5" ry="4" fill="#38e090"/>
<ellipse cx="510" cy="636" rx="7.5" ry="6" fill="#34d088"/>
</g></g>
<line x1="453.2" y1="633.5" x2="457.13" y2="625.76" stroke="#fff" stroke-width="2.3"/>
<path d="M459.40,621.30 L460.08,627.25 L454.19,624.26 Z" fill="#fff"/>
<text x="434.2" y="591.4" font-size="7.6" font-weight="bold" fill="#fff">AML</text>
<text x="434.2" y="599.8" font-size="7.6" font-weight="bold" fill="#fff">T-cell</text>
<text x="474" y="594.7" font-size="7.6" font-weight="bold" fill="#fff">AML</text>
<text x="474" y="603.1" font-size="7.6" font-weight="bold" fill="#fff">blast</text>
<text x="474" y="612.4" font-size="7.6" font-weight="bold" fill="#fff">(auto)</text>
<text x="463.3" y="643.4" font-size="9.6" font-weight="bold" text-anchor="middle" fill="#fff">P-Tyr</text>
</svg></body></html>
